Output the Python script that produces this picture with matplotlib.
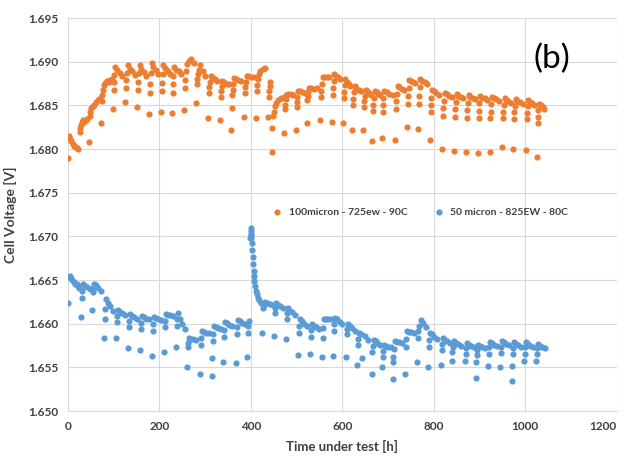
import matplotlib
matplotlib.use('Agg')
import matplotlib.pyplot as plt
from matplotlib.ticker import FormatStrFormatter, MultipleLocator

# ---- data (hours, volts) ----
orange_hours = [
    0, 2, 5, 8, 11, 14, 17, 20, 23,
    26, 27, 28, 30, 33, 36, 39, 42, 46,
    48, 49, 51, 54, 58, 62, 66, 69, 72,
    74, 75, 76, 78, 81, 85, 89, 93, 96,
    98, 100, 101, 102, 104, 108, 113, 119,
    125, 127, 128, 129, 131, 135, 140, 146,
    151, 153, 154, 155, 157, 161, 166, 172,
    177, 179, 180, 181, 183, 187, 192, 198,
    203, 205, 206, 207, 209, 213, 218, 224,
    227, 229, 230, 231, 233, 237, 242, 248,
    254, 256, 257, 258, 260, 264, 269, 275,
    280, 282, 283, 284, 286, 290, 295, 301,
    306, 308, 309, 310, 312, 316, 321, 327,
    332, 334, 335, 336, 338, 342, 347, 353,
    357, 358, 360, 361, 362, 364, 368, 373, 379,
    385, 387, 388, 389, 391, 395, 400, 406,
    411, 413, 414, 415, 417, 421, 426, 432,
    437, 439, 440, 441, 442, 446, 447, 449, 450, 452, 455, 460, 465, 469,
    472, 474, 475, 476, 478, 482, 487, 493,
    498, 500, 501, 502, 504, 508, 513, 519,
    522, 524, 525, 526, 528, 532, 538, 545,
    551, 553, 554, 555, 557, 561, 566, 572,
    577, 579, 580, 581, 583, 587, 591, 596,
    601, 603, 604, 605, 607, 610, 614, 618,
    621, 623, 624, 625, 627, 631, 636, 641,
    645, 647, 648, 649, 651, 654, 658, 662,
    665, 667, 668, 669, 671, 675, 679, 683,
    686, 688, 689, 690, 692, 697, 703, 710,
    715, 717, 718, 719, 721, 725, 730, 736,
    741, 743, 744, 745, 747, 751, 755, 760,
    765, 767, 768, 769, 771, 775, 780, 786,
    791, 793, 794, 795, 797, 801, 806, 812,
    818, 820, 821, 822, 824, 828, 833, 839,
    844, 846, 847, 848, 850, 854, 859, 865,
    870, 872, 873, 874, 876, 880, 885, 891,
    896, 898, 899, 900, 902, 906, 911, 917,
    922, 924, 925, 926, 928, 932, 937, 943,
    949, 951, 952, 953, 955, 959, 963, 968,
    973, 975, 976, 977, 979, 983, 988, 995,
    1001, 1003, 1004, 1005, 1007, 1011, 1015, 1020,
    1025, 1027, 1028, 1029, 1031, 1034, 1038, 1042,
]
orange_volts = [
    1.6790, 1.6815, 1.6812, 1.6809, 1.6806, 1.6804, 1.6802, 1.6801, 1.6800,
    1.6820, 1.6824, 1.6828, 1.6831, 1.6833, 1.6831, 1.6833, 1.6834, 1.6808,
    1.6838, 1.6843, 1.6847, 1.6849, 1.6851, 1.6854, 1.6856, 1.6857, 1.6830,
    1.6855, 1.6862, 1.6868, 1.6873, 1.6876, 1.6878, 1.6877, 1.6879, 1.6880,
    1.6846, 1.6868, 1.6877, 1.6885, 1.6894, 1.6891, 1.6887, 1.6884,
    1.6854, 1.6870, 1.6879, 1.6887, 1.6896, 1.6892, 1.6889, 1.6885,
    1.6848, 1.6868, 1.6877, 1.6887, 1.6896, 1.6892, 1.6888, 1.6884,
    1.6840, 1.6864, 1.6875, 1.6887, 1.6898, 1.6894, 1.6890, 1.6886,
    1.6842, 1.6866, 1.6876, 1.6886, 1.6896, 1.6893, 1.6889, 1.6886,
    1.6841, 1.6864, 1.6874, 1.6884, 1.6894, 1.6891, 1.6889, 1.6886,
    1.6845, 1.6870, 1.6879, 1.6889, 1.6897, 1.6901, 1.6903, 1.6899,
    1.6853, 1.6874, 1.6880, 1.6886, 1.6891, 1.6896, 1.6889, 1.6884,
    1.6836, 1.6864, 1.6871, 1.6877, 1.6884, 1.6882, 1.6880, 1.6878,
    1.6833, 1.6860, 1.6866, 1.6872, 1.6878, 1.6877, 1.6875, 1.6874,
    1.6822, 1.6847, 1.6862, 1.6868, 1.6875, 1.6881, 1.6880, 1.6879, 1.6878,
    1.6837, 1.6864, 1.6871, 1.6877, 1.6884, 1.6884, 1.6883, 1.6882,
    1.6836, 1.6866, 1.6873, 1.6880, 1.6886, 1.6889, 1.6892, 1.6893,
    1.6837, 1.6860, 1.6866, 1.6872, 1.6877, 1.6824, 1.6797, 1.6838, 1.6843, 1.6849, 1.6853, 1.6856, 1.6858, 1.6859,
    1.6818, 1.6846, 1.6851, 1.6857, 1.6862, 1.6863, 1.6863, 1.6862,
    1.6822, 1.6848, 1.6854, 1.6860, 1.6866, 1.6866, 1.6865, 1.6864,
    1.6830, 1.6856, 1.6861, 1.6865, 1.6870, 1.6870, 1.6869, 1.6870,
    1.6833, 1.6860, 1.6867, 1.6875, 1.6882, 1.6883, 1.6883, 1.6882,
    1.6831, 1.6862, 1.6870, 1.6878, 1.6886, 1.6884, 1.6882, 1.6880,
    1.6830, 1.6858, 1.6865, 1.6873, 1.6880, 1.6877, 1.6875, 1.6872,
    1.6822, 1.6850, 1.6857, 1.6865, 1.6872, 1.6870, 1.6868, 1.6866,
    1.6822, 1.6848, 1.6855, 1.6861, 1.6868, 1.6866, 1.6864, 1.6862,
    1.6809, 1.6844, 1.6851, 1.6859, 1.6866, 1.6865, 1.6863, 1.6862,
    1.6813, 1.6843, 1.6851, 1.6858, 1.6866, 1.6865, 1.6863, 1.6862,
    1.6810, 1.6846, 1.6855, 1.6863, 1.6872, 1.6871, 1.6869, 1.6868,
    1.6825, 1.6852, 1.6861, 1.6870, 1.6879, 1.6878, 1.6877, 1.6876,
    1.6823, 1.6852, 1.6861, 1.6871, 1.6880, 1.6878, 1.6877, 1.6875,
    1.6810, 1.6842, 1.6851, 1.6859, 1.6868, 1.6866, 1.6864, 1.6862,
    1.6800, 1.6838, 1.6847, 1.6855, 1.6864, 1.6863, 1.6861, 1.6860,
    1.6798, 1.6837, 1.6846, 1.6854, 1.6863, 1.6861, 1.6860, 1.6858,
    1.6797, 1.6836, 1.6845, 1.6853, 1.6862, 1.6860, 1.6859, 1.6857,
    1.6796, 1.6836, 1.6844, 1.6853, 1.6861, 1.6859, 1.6858, 1.6856,
    1.6797, 1.6835, 1.6843, 1.6852, 1.6860, 1.6858, 1.6857, 1.6855,
    1.6802, 1.6836, 1.6843, 1.6851, 1.6858, 1.6856, 1.6855, 1.6853,
    1.6800, 1.6834, 1.6842, 1.6849, 1.6857, 1.6855, 1.6854, 1.6852,
    1.6799, 1.6834, 1.6841, 1.6849, 1.6856, 1.6854, 1.6853, 1.6851,
    1.6791, 1.6830, 1.6837, 1.6845, 1.6852, 1.6850, 1.6848, 1.6846,
]

blue_hours = [
    0, 2, 4, 7, 10, 13, 16, 19, 22, 25,
    28, 30, 31, 33, 37, 42, 48,
    52, 54, 55, 57, 61, 66, 72,
    79, 81, 82, 84, 88, 93, 99,
    105, 107, 108, 110, 114, 119, 125,
    131, 133, 134, 136, 140, 145, 151,
    157, 159, 160, 162, 166, 171, 177,
    184, 186, 187, 189, 193, 198, 204,
    210, 212, 213, 215, 219, 224, 230,
    236, 238, 239, 241, 245, 250, 256,
    260, 262, 263, 265, 269, 274, 280,
    289, 291, 292, 294, 298, 303, 309,
    315, 316, 317, 318, 320, 324, 329, 335,
    339, 341, 342, 344, 348, 353, 359,
    367, 369, 370, 372, 376, 381, 387,
    391, 393, 394, 396,
    399, 400, 400, 400, 401, 401, 402, 403, 404, 405, 406, 407, 408, 410, 412, 414, 416, 419, 422,
    424, 426, 428, 431, 436, 442, 448,
    450, 452, 453, 455, 459, 464, 470,
    477, 479, 480, 482, 486, 491, 497,
    503, 505, 506, 508, 512, 517, 523,
    529, 531, 532, 534, 538, 543, 549,
    555, 557, 558, 560, 564, 569, 575,
    580, 582, 583, 585, 589, 594, 600,
    608, 610, 611, 613, 617, 622, 628,
    632, 634, 635, 637, 642, 643, 649, 656,
    664, 666, 667, 669, 673, 677, 682,
    686, 688, 689, 691, 695, 700, 706,
    710, 711, 712, 713, 715, 719, 724, 731,
    737, 739, 740, 742, 746, 751, 757,
    763, 765, 766, 768, 772, 777, 782,
    787, 789, 790, 792, 796, 801, 807,
    815, 817, 818, 820, 824, 829, 835,
    839, 841, 842, 844, 848, 853, 860,
    868, 870, 871, 873, 877, 882, 888,
    892, 893, 894, 895, 897, 901, 906, 912,
    918, 920, 921, 923, 927, 932, 939,
    945, 947, 948, 950, 954, 959, 965,
    971, 972, 973, 974, 976, 980, 985, 991,
    997, 999, 1000, 1002, 1006, 1011, 1017,
    1023, 1025, 1026, 1028, 1032, 1037, 1043,
]
blue_volts = [
    1.6624, 1.6654, 1.6655, 1.6652, 1.6650, 1.6648, 1.6646, 1.6645, 1.6643, 1.6641,
    1.6608, 1.6630, 1.6638, 1.6645, 1.6643, 1.6642, 1.6640,
    1.6616, 1.6636, 1.6641, 1.6646, 1.6644, 1.6641, 1.6637,
    1.6584, 1.6606, 1.6617, 1.6628, 1.6624, 1.6620, 1.6615,
    1.6584, 1.6602, 1.6609, 1.6616, 1.6614, 1.6612, 1.6610,
    1.6572, 1.6596, 1.6603, 1.6611, 1.6609, 1.6608, 1.6606,
    1.6570, 1.6594, 1.6601, 1.6609, 1.6608, 1.6606, 1.6605,
    1.6563, 1.6592, 1.6600, 1.6608, 1.6607, 1.6605, 1.6604,
    1.6568, 1.6596, 1.6603, 1.6611, 1.6610, 1.6610, 1.6609,
    1.6573, 1.6598, 1.6605, 1.6612, 1.6606, 1.6600, 1.6594,
    1.6550, 1.6573, 1.6578, 1.6584, 1.6583, 1.6583, 1.6582,
    1.6543, 1.6576, 1.6584, 1.6592, 1.6591, 1.6590, 1.6589,
    1.6540, 1.6561, 1.6580, 1.6588, 1.6597, 1.6596, 1.6595, 1.6594,
    1.6556, 1.6585, 1.6593, 1.6602, 1.6601, 1.6599, 1.6598,
    1.6555, 1.6588, 1.6596, 1.6604, 1.6603, 1.6601, 1.6600,
    1.6562, 1.6590, 1.6597, 1.6603,
    1.6698, 1.6702, 1.6706, 1.6710, 1.6703, 1.6698, 1.6692, 1.6684, 1.6676, 1.6668, 1.6661, 1.6655, 1.6649, 1.6643, 1.6638, 1.6634, 1.6630, 1.6627, 1.6624,
    1.6589, 1.6618, 1.6622, 1.6625, 1.6624, 1.6623, 1.6622,
    1.6586, 1.6612, 1.6618, 1.6624, 1.6622, 1.6620, 1.6618,
    1.6583, 1.6606, 1.6612, 1.6618, 1.6615, 1.6613, 1.6610,
    1.6564, 1.6590, 1.6598, 1.6605, 1.6603, 1.6600, 1.6598,
    1.6566, 1.6585, 1.6593, 1.6600, 1.6598, 1.6596, 1.6594,
    1.6562, 1.6584, 1.6595, 1.6606, 1.6606, 1.6605, 1.6605,
    1.6563, 1.6592, 1.6600, 1.6607, 1.6605, 1.6602, 1.6600,
    1.6562, 1.6588, 1.6594, 1.6600, 1.6597, 1.6595, 1.6592,
    1.6553, 1.6576, 1.6583, 1.6590, 1.6588, 1.6561, 1.6586, 1.6582,
    1.6542, 1.6568, 1.6575, 1.6582, 1.6580, 1.6578, 1.6576,
    1.6550, 1.6562, 1.6569, 1.6576, 1.6575, 1.6574, 1.6573,
    1.6537, 1.6556, 1.6562, 1.6571, 1.6580, 1.6579, 1.6579, 1.6578,
    1.6542, 1.6574, 1.6583, 1.6592, 1.6591, 1.6591, 1.6590,
    1.6556, 1.6584, 1.6592, 1.6598, 1.6604, 1.6601, 1.6596,
    1.6550, 1.6574, 1.6582, 1.6590, 1.6588, 1.6585, 1.6583,
    1.6553, 1.6570, 1.6577, 1.6584, 1.6582, 1.6580, 1.6578,
    1.6557, 1.6568, 1.6574, 1.6580, 1.6578, 1.6577, 1.6575,
    1.6557, 1.6566, 1.6572, 1.6578, 1.6576, 1.6575, 1.6573,
    1.6538, 1.6556, 1.6564, 1.6570, 1.6576, 1.6575, 1.6573, 1.6572,
    1.6552, 1.6566, 1.6573, 1.6579, 1.6578, 1.6576, 1.6575,
    1.6550, 1.6567, 1.6574, 1.6580, 1.6579, 1.6577, 1.6576,
    1.6535, 1.6552, 1.6565, 1.6572, 1.6579, 1.6577, 1.6576, 1.6574,
    1.6557, 1.6566, 1.6573, 1.6579, 1.6577, 1.6575, 1.6573,
    1.6557, 1.6566, 1.6572, 1.6577, 1.6575, 1.6574, 1.6572,
]

series_labels = ['100micron - 725ew - 90C', '50 micron - 825EW - 80C']
series_colors = ['#ED7D31', '#5B9BD5']

x_ticks = [0, 200, 400, 600, 800, 1000, 1200]

plt.rcParams['font.family'] = ['Lato', 'DejaVu Sans']

fig = plt.figure(figsize=(6.28, 4.62), dpi=100)
ax = fig.add_axes([0.108, 0.110, 0.874, 0.851])

ax.scatter(orange_hours, orange_volts, s=20, color=series_colors[0],
           linewidths=0, label=series_labels[0], zorder=3)
ax.scatter(blue_hours, blue_volts, s=20, color=series_colors[1],
           linewidths=0, label=series_labels[1], zorder=3)

ax.set_xlim(0, 1200)
ax.set_ylim(1.650, 1.695)
ax.set_xticks(x_ticks)
ax.yaxis.set_major_locator(MultipleLocator(0.005))
ax.yaxis.set_major_formatter(FormatStrFormatter('%.3f'))

ax.grid(True, color='#D9D9D9', linewidth=0.8, zorder=0)
ax.set_axisbelow(True)
for side in ['top', 'right', 'left']:
    ax.spines[side].set_visible(False)
ax.spines['bottom'].set_color('#D9D9D9')
ax.tick_params(length=0, labelsize=8.5, colors='#404040', pad=7)
for lbl in ax.get_xticklabels() + ax.get_yticklabels():
    lbl.set_fontweight('bold')
# like Excel, pull the last x label inside the figure edge
ax.get_xticklabels()[-1].set_horizontalalignment('right')

ax.set_xlabel('Time under test [h]', fontsize=9.5, fontweight='bold',
              color='#404040', labelpad=6)
ax.set_ylabel('Cell Voltage [V]', fontsize=10, fontweight='bold',
              color='#404040', labelpad=8)

ax.text(0.882, 0.895, '(b)', transform=ax.transAxes, fontsize=24,
        ha='center', va='center', color='black')

leg = ax.legend(loc='center', bbox_to_anchor=(0.637, 0.506), ncol=2,
                frameon=False, fontsize=7.5, handletextpad=0.1,
                columnspacing=2.0, scatterpoints=1, markerscale=1.0)
for t in leg.get_texts():
    t.set_color('#404040')
    t.set_fontweight('bold')

fig.savefig('out.png', dpi=100)
